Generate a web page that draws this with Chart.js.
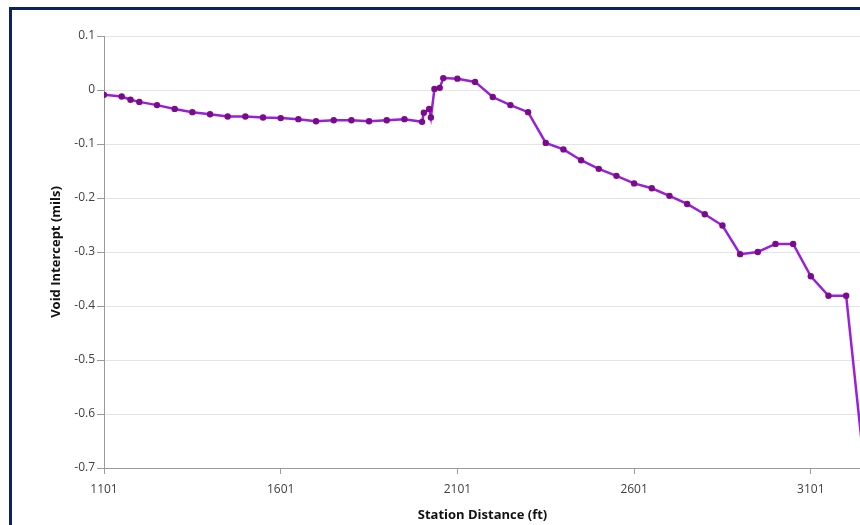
<!DOCTYPE html>
<html>
<head>
<meta charset="utf-8">
<script src="https://cdn.jsdelivr.net/npm/chart.js@4.4.1/dist/chart.umd.min.js"></script>
<style>
  html, body { margin: 0; padding: 0; background: #fff; overflow: hidden; }
  #wrap { position: absolute; left: 0; top: 0; width: 865px; height: 525px; }
  #frame {
    position: absolute; left: 9px; top: 7px; width: 900px; height: 560px;
    border-left: 3px solid #0b2461; border-top: 3px solid #0b2461;
    pointer-events: none;
  }
</style>
</head>
<body>
<div id="wrap"><canvas id="myChart"></canvas></div>
<div id="frame"></div>
<script>
// station distance (ft) and void intercept (mils)
var stations = [1101, 1151, 1176, 1201, 1251, 1301, 1351, 1401, 1451, 1501,
  1551, 1601, 1651, 1701, 1751, 1801, 1851, 1901, 1951, 2001,
  2006, 2021, 2026, 2036, 2051, 2061, 2101, 2151, 2201, 2251,
  2301, 2351, 2401, 2451, 2501, 2551, 2601, 2651, 2701, 2751,
  2801, 2851, 2901, 2951, 3001, 3051, 3101, 3151, 3201, 3251];
var intercepts = [-0.009, -0.012, -0.018, -0.022, -0.028, -0.035, -0.041, -0.045, -0.049, -0.049,
  -0.051, -0.052, -0.054, -0.058, -0.056, -0.056, -0.058, -0.056, -0.054, -0.059,
  -0.042, -0.035, -0.051, 0.002, 0.004, 0.022, 0.021, 0.015, -0.013, -0.028,
  -0.041, -0.098, -0.110, -0.130, -0.146, -0.159, -0.173, -0.182, -0.196, -0.211,
  -0.230, -0.251, -0.304, -0.300, -0.285, -0.285, -0.345, -0.381, -0.381, -0.69];
var xTicks = [1101, 1601, 2101, 2601, 3101];
var yTicks = [0.1, 0, -0.1, -0.2, -0.3, -0.4, -0.5, -0.6, -0.7];

var points = stations.map(function(s, i) { return { x: s, y: intercepts[i] }; });

Chart.defaults.font.family = '"Open Sans", "Noto Sans", sans-serif';
Chart.defaults.font.size = 12;
Chart.defaults.color = '#404040';

var ctx = document.getElementById('myChart').getContext('2d');
var myChart = new Chart(ctx, {
    type: 'line',
    data: {
        datasets: [{
            data: points,
            borderColor: '#9a1fd8',
            borderWidth: 2.5,
            pointBackgroundColor: '#7a0b8c',
            pointBorderColor: '#7a0b8c',
            pointBorderWidth: 0,
            pointRadius: 3.2,
            tension: 0,
            fill: false
        }]
    },
    options: {
        responsive: true,
        maintainAspectRatio: false,
        animation: false,
        layout: { padding: { left: 44, top: 36, right: 0, bottom: 0 } },
        plugins: { legend: { display: false }, tooltip: { enabled: false } },
        scales: {
            x: {
                type: 'linear',
                min: 1101,
                max: 3243,
                afterBuildTicks: function(scale) {
                    scale.ticks = xTicks.map(function(v) { return { value: v }; });
                },
                afterFit: function(scale) { scale.height = 57; },
                grid: { drawOnChartArea: false, tickLength: 6, tickColor: '#9a9a9a' },
                border: { color: '#9a9a9a' },
                ticks: {
                    padding: 8,
                    maxRotation: 0,
                    callback: function(value) { return String(value); }
                },
                title: {
                    display: true,
                    text: 'Station Distance (ft)',
                    color: '#111',
                    font: { size: 13, weight: 'bold' },
                    padding: { top: 4, bottom: 2 }
                }
            },
            y: {
                min: -0.7,
                max: 0.1,
                afterBuildTicks: function(scale) {
                    scale.ticks = yTicks.map(function(v) { return { value: v }; });
                },
                afterFit: function(scale) { scale.width = 60; },
                grid: { color: '#e4e4e4', tickLength: 7, tickColor: '#9a9a9a' },
                border: { color: '#9a9a9a' },
                ticks: {
                    padding: 2,
                    callback: function(value) { return String(Math.round(value * 10) / 10); }
                },
                title: {
                    display: true,
                    text: 'Void Intercept (mils)',
                    color: '#111',
                    font: { size: 13, weight: 'bold' },
                    padding: { top: 4, bottom: 4 }
                }
            }
        }
    }
});
</script>
</body>
</html>
